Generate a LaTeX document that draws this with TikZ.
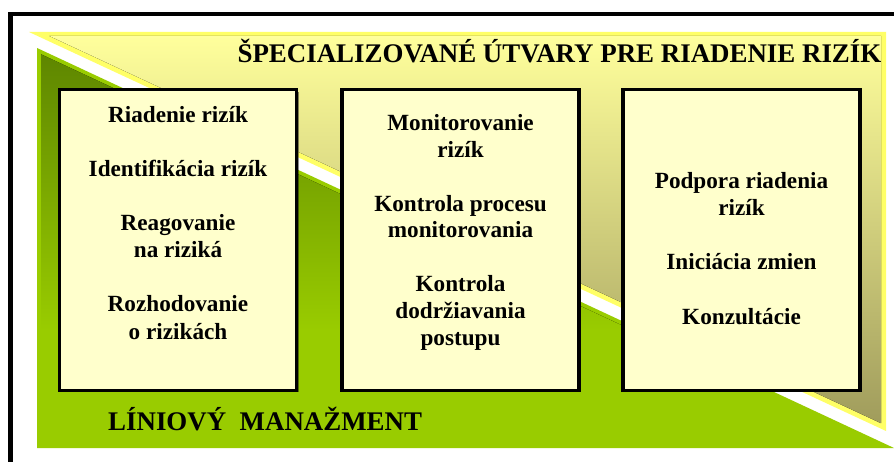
\documentclass[tikz,border=0pt]{standalone}
\usepackage{fontspec}
\setmainfont{Liberation Serif}[BoldFont={Liberation Serif Bold}]
\usetikzlibrary{shadows}
\definecolor{ylwborder}{HTML}{FFFF66}
\definecolor{ylwtop}{HTML}{FFFF9C}
\definecolor{ylwbot}{HTML}{A09C5C}
\definecolor{grnborder}{HTML}{99CC00}
\definecolor{grntop}{HTML}{5E8600}
\definecolor{boxfill}{HTML}{FFFFCC}
\tikzset{
  boxnode/.style={draw=black, fill=boxfill, line width=3.5pt, minimum width=237pt,
    minimum height=300.5pt, inner sep=0pt,
    drop shadow={shadow xshift=2pt, shadow yshift=-2pt, fill=black, opacity=0.45}},
  linetxt/.style={anchor=base, inner sep=0pt, font=\fontsize{23.2}{27}\bfseries\selectfont},
  headtxt/.style={inner sep=0pt, font=\fontsize{26.9}{30}\bfseries\selectfont},
  frameline/.style={draw=black, line width=4.5pt}
}
\begin{document}
\begin{tikzpicture}[x=1pt,y=-1pt]
\useasboundingbox (0,0) rectangle (894,462);
\clip (0,0) rectangle (894,462);
\fill[white] (0,0) rectangle (894,462);
% yellow triangle (specialized units)
\fill[ylwborder] (29,32) -- (886,32) -- (886,431) -- cycle;
\fill[top color=ylwtop, bottom color=ylwbot] (49.4,36) -- (881,36) -- (881,423.2) -- cycle;
% green triangle (line management)
\fill[grnborder] (37,48) -- (37,448) -- (894,448) -- cycle;
\begin{scope}
  \clip (41,54.3) -- (41,448) -- (884.7,448) -- cycle;
  \fill[top color=grntop, bottom color=grnborder] (41,54) rectangle (894,330);
\end{scope}
% outer frame
\draw[frameline] (10.5,480) -- (10.5,14) -- (910,14);
% boxes
\node[boxnode] (box1) at (178,240) {};
\node[boxnode] (box2) at (460.5,240) {};
\node[boxnode] (box3) at (741.5,240) {};
% title texts
\node[headtxt, anchor=base] (title) at (559.5,63) {ŠPECIALIZOVANÉ ÚTVARY PRE RIADENIE RIZÍK};
\node[headtxt, anchor=base west] (linemgmt) at (108,430) {LÍNIOVÝ\hspace{0.5em}MANAŽMENT};
% box 1
\node[linetxt] (a1) at (178,123) {Riadenie rizík};
\node[linetxt] (a2) at (178,177) {Identifikácia rizík};
\node[linetxt] (a3) at (178,231) {Reagovanie};
\node[linetxt] (a4) at (178,258) {na riziká};
\node[linetxt] (a5) at (178,312) {Rozhodovanie};
\node[linetxt] (a6) at (178,339) {o rizikách};
% box 2
\node[linetxt] (b1) at (460.5,131) {Monitorovanie};
\node[linetxt] (b2) at (460.5,157.75) {rizík};
\node[linetxt] (b3) at (460.5,211.25) {Kontrola procesu};
\node[linetxt] (b4) at (460.5,238) {monitorovania};
\node[linetxt] (b5) at (460.5,291.5) {Kontrola};
\node[linetxt] (b6) at (460.5,318.25) {dodržiavania};
\node[linetxt] (b7) at (460.5,345) {postupu};
% box 3
\node[linetxt] (c1) at (741.5,189) {Podpora riadenia};
\node[linetxt] (c2) at (741.5,216) {rizík};
\node[linetxt] (c3) at (741.5,270) {Iniciácia zmien};
\node[linetxt] (c4) at (741.5,324) {Konzultácie};
\end{tikzpicture}
\end{document}
